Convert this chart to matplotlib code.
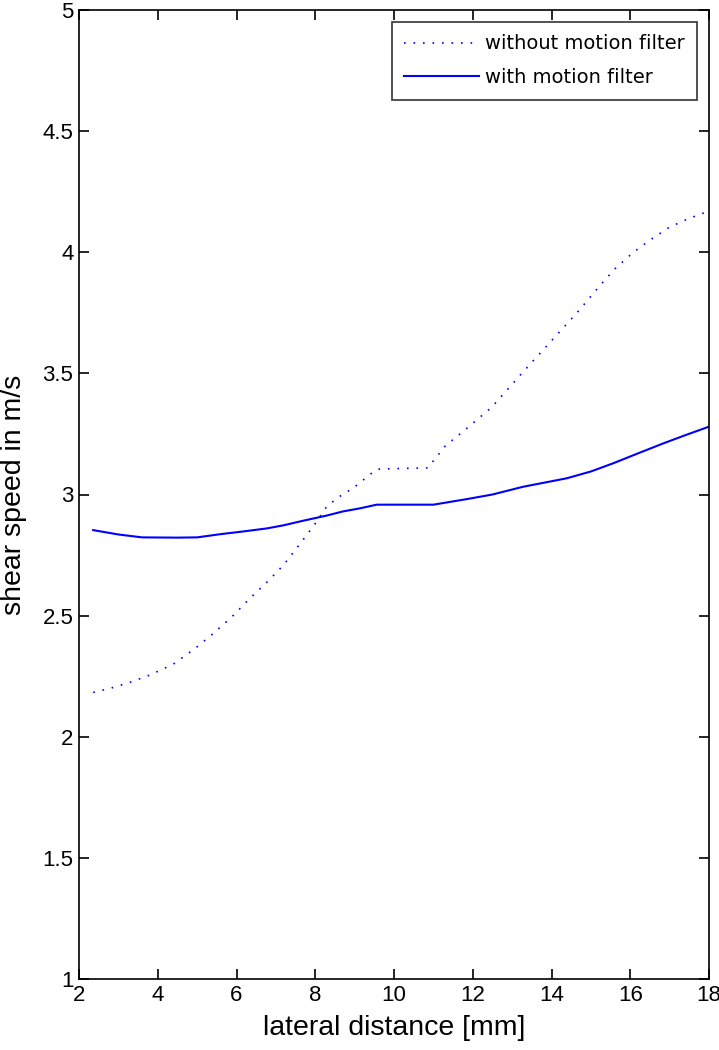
import matplotlib
matplotlib.use("Agg")
import matplotlib.pyplot as plt

# data
x_without = [2.36, 2.8, 3.3, 3.79, 4.4, 4.96, 5.4, 5.89, 6.3, 6.83, 7.2, 7.63, 8.0, 8.29, 8.6, 8.97,
             9.44, 9.6, 10.86, 11.3, 11.9, 12.48, 13.3, 14.17, 14.7, 15.19, 15.6, 16.08, 16.5, 17.01, 17.5, 18.0]
y_without = [2.183, 2.20, 2.225, 2.254, 2.30, 2.366, 2.425, 2.496, 2.565, 2.647, 2.71, 2.80, 2.88, 2.95,
             2.99, 3.027, 3.089, 3.105, 3.11, 3.20, 3.28, 3.36, 3.51, 3.665, 3.76, 3.855, 3.93, 4.0, 4.05,
             4.105, 4.14, 4.17]

x_with = [2.36, 3.0, 3.6, 4.5, 5.0, 5.58, 6.2, 6.77, 7.2, 7.7, 8.29, 8.7, 9.14, 9.56, 11.0, 11.85,
          12.5, 13.28, 14.39, 15.0, 15.57, 16.2, 16.84, 17.4, 18.0]
y_with = [2.853, 2.835, 2.823, 2.822, 2.823, 2.836, 2.848, 2.86, 2.873, 2.892, 2.913, 2.93, 2.943,
          2.958, 2.958, 2.981, 3.0, 3.032, 3.067, 3.095, 3.129, 3.17, 3.211, 3.245, 3.28]

x_ticks = [2, 4, 6, 8, 10, 12, 14, 16, 18]
y_ticks = [1, 1.5, 2, 2.5, 3, 3.5, 4, 4.5, 5]
y_ticklabels = ["1", "1.5", "2", "2.5", "3", "3.5", "4", "4.5", "5"]

plt.rcParams['font.family'] = ['Liberation Sans', 'DejaVu Sans']

fig = plt.figure(figsize=(7.19, 10.5), dpi=100)
ax = fig.add_axes([79/719, 71/1050, 630/719, 969/1050])

ax.plot(x_without, y_without, color=(0, 0, 1), linewidth=1.2, linestyle=(0, (1, 4.7)),
        label="without motion filter")
ax.plot(x_with, y_with, color=(0, 0, 1), linewidth=1.5, linestyle='-', label="with motion filter")

ax.set_xlim(2, 18)
ax.set_ylim(1, 5)
ax.set_xticks(x_ticks)
ax.set_yticks(y_ticks)
ax.set_yticklabels(y_ticklabels)
ax.tick_params(direction='in', length=7, width=1.2, top=True, right=True, labelsize=16, pad=4)
for s in ax.spines.values():
    s.set_linewidth(1.2)

ax.set_xlabel("lateral distance [mm]", fontsize=20.5, labelpad=7)
ax.set_ylabel("shear speed in m/s", fontsize=20.5)
ax.yaxis.set_label_coords(-0.083, 0.5)

leg = ax.legend(loc='upper right', prop={'family': 'DejaVu Sans', 'size': 14}, frameon=True,
                fancybox=False, edgecolor='black', borderaxespad=0.6, handlelength=3.85,
                handletextpad=0.3, borderpad=0.65, labelspacing=0.76)
leg.get_frame().set_linewidth(1.2)

fig.savefig("out.png", dpi=100)
